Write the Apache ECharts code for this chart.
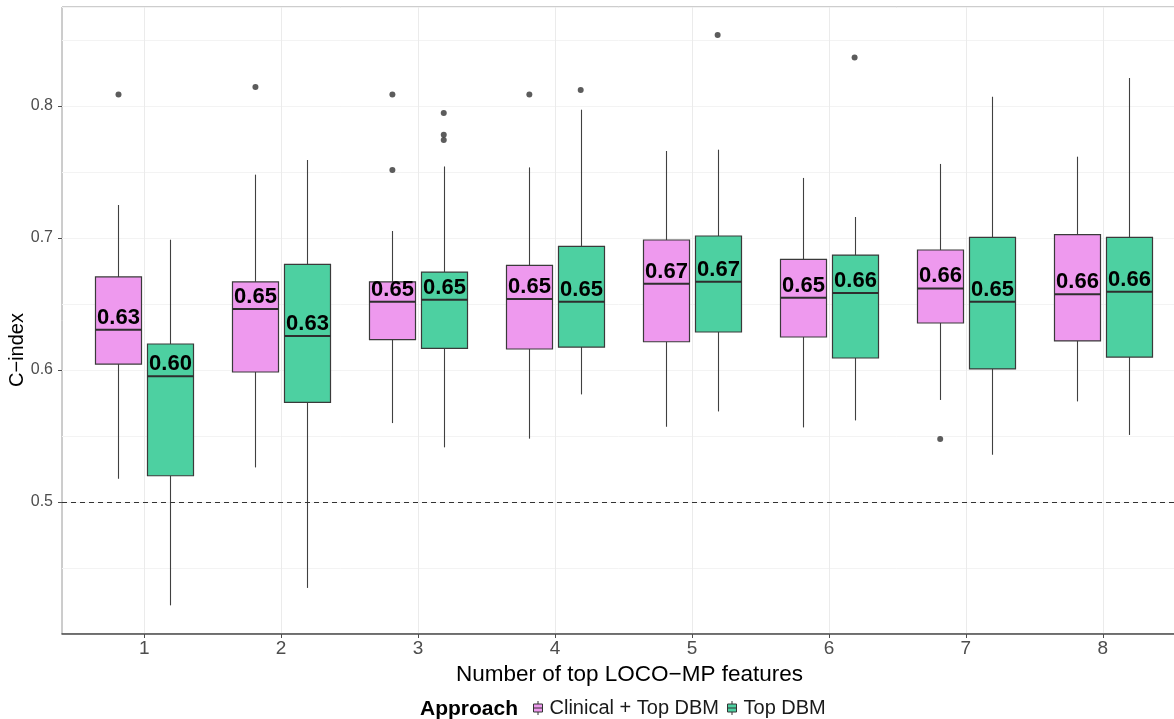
<!DOCTYPE html>
<html>
<head>
<meta charset="utf-8">
<script src="https://cdn.jsdelivr.net/npm/echarts@6/dist/echarts.min.js"></script>
<style>
  html, body { margin: 0; padding: 0; background: #ffffff; }
  #chart { width: 1174px; height: 719px; }
</style>
</head>
<body>
<div id="chart"></div>
<script>
// Number of top LOCO-MP features on the x axis
const categories = ['1', '2', '3', '4', '5', '6', '7', '8'];
const approaches = ['Clinical + Top DBM', 'Top DBM'];

// Box statistics per feature count: [lower whisker, Q1, median, Q3, upper whisker]
const clinicalBoxes = [
  [0.5176, 0.6045, 0.6305, 0.6705, 0.7250],
  [0.5262, 0.5985, 0.6462, 0.6667, 0.7480],
  [0.5598, 0.6230, 0.6517, 0.6667, 0.7053],
  [0.5480, 0.6159, 0.6538, 0.6792, 0.7535],
  [0.5570, 0.6214, 0.6654, 0.6985, 0.7659],
  [0.5565, 0.6250, 0.6548, 0.6838, 0.7455],
  [0.5773, 0.6356, 0.6618, 0.6909, 0.7561],
  [0.5762, 0.6220, 0.6573, 0.7025, 0.7616]
];
const topDbmBoxes = [
  [0.4217, 0.5199, 0.5952, 0.6197, 0.6987],
  [0.4349, 0.5755, 0.6258, 0.6800, 0.7591],
  [0.5414, 0.6164, 0.6533, 0.6742, 0.7542],
  [0.5815, 0.6174, 0.6517, 0.6936, 0.7972],
  [0.5686, 0.6288, 0.6669, 0.7015, 0.7669],
  [0.5618, 0.6091, 0.6583, 0.6871, 0.7159],
  [0.5358, 0.6008, 0.6517, 0.7005, 0.8070],
  [0.5508, 0.6098, 0.6593, 0.7005, 0.8212]
];

// Outlying runs: [feature count, C-index]
const clinicalOutliers = [[1, 0.8088], [2, 0.8144], [3, 0.8088], [3, 0.7515], [4, 0.8088], [7, 0.5477]];
const topDbmOutliers = [[3, 0.7947], [3, 0.7783], [3, 0.7742], [4, 0.8121], [5, 0.8538], [6, 0.8368]];

// Axis ticks
const xTicks = [1, 2, 3, 4, 5, 6, 7, 8];
const yTicks = [0.5, 0.6, 0.7, 0.8];
const referenceLine = 0.5;

const PINK = '#EE99EE';
const GREEN = '#4DD0A1';
const DODGE = 0.1875;      // half of the dodge step, in x units
const BOX_WIDTH = 0.336;   // box width, in x units
const FONT = '"Liberation Sans", Arial, Helvetica, sans-serif';

function boxData(boxes) {
  return boxes.map((b, i) => [xTicks[i]].concat(b));
}

function boxRenderer(offset) {
  return function (params, api) {
    const x = api.value(0) + offset;
    const lo = api.coord([x, api.value(1)]);
    const q1 = api.coord([x, api.value(2)]);
    const med = api.coord([x, api.value(3)]);
    const q3 = api.coord([x, api.value(4)]);
    const hi = api.coord([x, api.value(5)]);
    const w = api.size([BOX_WIDTH, 0])[0];
    const cx = Math.round(med[0]) + 0.5;
    const fill = api.visual('color');
    const whisker = { stroke: '#404040', lineWidth: 1.1 };
    return {
      type: 'group',
      children: [
        { type: 'line', shape: { x1: cx, y1: hi[1], x2: cx, y2: q3[1] }, style: whisker },
        { type: 'line', shape: { x1: cx, y1: q1[1], x2: cx, y2: lo[1] }, style: whisker },
        {
          type: 'rect',
          shape: { x: cx - w / 2, y: q3[1], width: w, height: q1[1] - q3[1] },
          style: { fill: fill, stroke: '#3a3a3a', lineWidth: 1.2 }
        },
        {
          type: 'line',
          shape: { x1: cx - w / 2, y1: med[1], x2: cx + w / 2, y2: med[1] },
          style: { stroke: '#2e2e2e', lineWidth: 2 }
        },
        {
          type: 'text',
          x: cx,
          y: med[1] - 1,
          z2: 10,
          style: {
            text: api.value(3).toFixed(2),
            font: 'bold 22px ' + FONT,
            fill: '#000000',
            align: 'center',
            verticalAlign: 'bottom'
          }
        }
      ]
    };
  };
}

const chart = echarts.init(document.getElementById('chart'), null, { renderer: 'canvas' });

const option = {
  animation: false,
  backgroundColor: '#ffffff',
  textStyle: { fontFamily: FONT },
  color: [PINK, GREEN],
  grid: {
    left: 62, top: 7, width: 1123, height: 627,
    containLabel: false, outerBoundsMode: 'none',
    show: true, borderColor: '#9a9a9a', borderWidth: 1, backgroundColor: 'transparent'
  },
  xAxis: {
    type: 'value', min: 0.4, max: 8.6,
    axisLine: { show: true, onZero: false, lineStyle: { color: '#4d4d4d', width: 1.5 } },
    axisTick: { show: true, customValues: xTicks, length: 4, lineStyle: { color: '#4d4d4d' } },
    axisLabel: {
      customValues: xTicks, formatter: v => categories[xTicks.indexOf(v)],
      color: '#4d4d4d', fontSize: 19, margin: 5
    },
    splitLine: { show: true, lineStyle: { color: '#ebebeb', width: 1 } },
    name: 'Number of top LOCO\u2212MP features',
    nameLocation: 'middle', nameGap: 22,
    nameTextStyle: { fontSize: 22.5, color: '#000000', verticalAlign: 'top', padding: [0, 0, 0, 12] }
  },
  yAxis: [
    {
      type: 'value', min: 0.4, max: 0.875, position: 'left',
      axisLine: { show: false },
      axisTick: { show: true, customValues: yTicks, length: 4, lineStyle: { color: '#4d4d4d' } },
      axisLabel: { customValues: yTicks, formatter: v => v.toFixed(1), color: '#4d4d4d', fontSize: 16, margin: 9 },
      splitLine: { show: true, lineStyle: { color: '#ebebeb', width: 1 } }
    },
    {
      type: 'value', min: 0.4, max: 0.875, interval: 0.05, position: 'right',
      axisLine: { show: false }, axisTick: { show: false }, axisLabel: { show: false },
      splitLine: { show: true, lineStyle: { color: '#f3f3f3', width: 1 } }
    }
  ],
  legend: {
    data: approaches,
    left: 528, top: 693,
    itemWidth: 9, itemHeight: 14, itemGap: 8,
    icon: 'path://M4.5,0V3M0,3H9V11H0ZM0,7H9M4.5,11V14',
    itemStyle: { borderColor: '#333333', borderWidth: 1 },
    textStyle: { fontSize: 20, color: '#1a1a1a', padding: [0, 0, 0, 2] }
  },
  graphic: [
    {
      type: 'text', left: 420, top: 699,
      style: { text: 'Approach', font: 'bold 21px ' + FONT, fill: '#000000' }
    },
    {
      type: 'text', x: 17, y: 350, rotation: Math.PI / 2,
      style: { text: 'C\u2212index', font: '20px ' + FONT, fill: '#000000', align: 'center', verticalAlign: 'middle' }
    }
  ],
  series: [
    {
      name: approaches[0], type: 'custom',
      itemStyle: { color: PINK },
      renderItem: boxRenderer(-DODGE),
      encode: { x: 0, y: [1, 2, 3, 4, 5] },
      data: boxData(clinicalBoxes), z: 3
    },
    {
      name: approaches[1], type: 'custom',
      itemStyle: { color: GREEN },
      renderItem: boxRenderer(DODGE),
      encode: { x: 0, y: [1, 2, 3, 4, 5] },
      data: boxData(topDbmBoxes), z: 3
    },
    {
      type: 'scatter', symbolSize: 6, z: 4,
      itemStyle: { color: '#333333' },
      data: clinicalOutliers.map(([c, v]) => [c - DODGE, v]),
      markLine: {
        silent: true, symbol: 'none',
        label: { show: false },
        lineStyle: { type: [5, 4], color: '#333333', width: 1 },
        data: [{ yAxis: referenceLine }]
      }
    },
    {
      type: 'scatter', symbolSize: 6, z: 4,
      itemStyle: { color: '#333333' },
      data: topDbmOutliers.map(([c, v]) => [c + DODGE, v])
    }
  ]
};

chart.setOption(option);
</script>
</body>
</html>
